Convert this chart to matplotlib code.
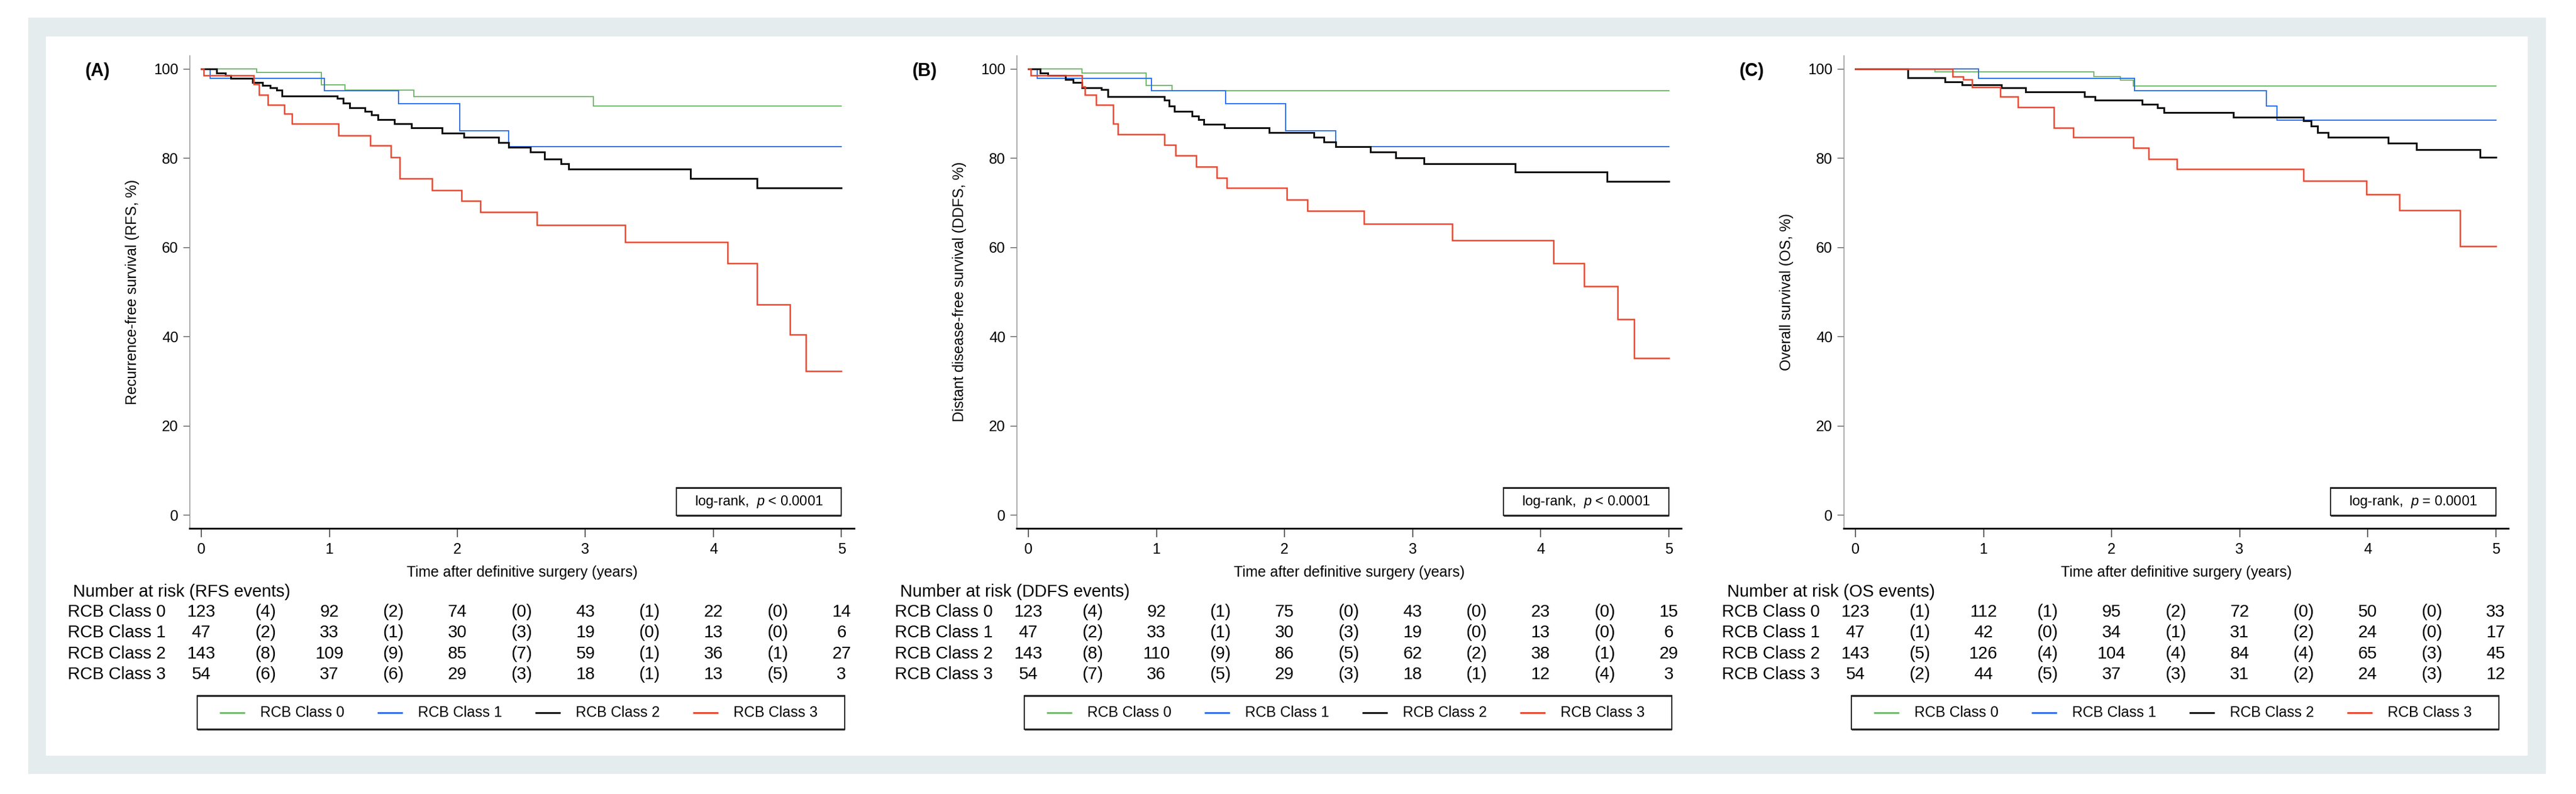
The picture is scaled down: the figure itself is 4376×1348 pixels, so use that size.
import matplotlib
matplotlib.use("Agg")
import matplotlib.pyplot as plt
from matplotlib.patches import Rectangle
from matplotlib.transforms import blended_transform_factory

plt.rcParams['font.family'] = ['Liberation Sans', 'DejaVu Sans']
plt.rcParams['mathtext.fontset'] = 'custom'
plt.rcParams['mathtext.it'] = 'Liberation Sans:italic'
plt.rcParams['mathtext.rm'] = 'Liberation Sans'

# ---------------- data ----------------
classes = ["RCB Class 0", "RCB Class 1", "RCB Class 2", "RCB Class 3"]
colors = ["#72B86C", "#2F6FE4", "#111111", "#E8462E"]
widths = [1.4, 1.4, 2.2, 1.8]
years = [0, 1, 2, 3, 4, 5]

# (A) Recurrence-free survival
rfs_c0_t = [0, 0.43, 0.94, 1.12, 1.66, 3.06, 5.0]
rfs_c0_s = [100, 99.2, 96.4, 95.2, 93.8, 91.6, 91.6]
rfs_c1_t = [0, 0.07, 0.96, 1.54, 2.02, 2.40, 5.0]
rfs_c1_s = [100, 97.9, 95.1, 92.2, 86.1, 82.6, 82.6]
rfs_c2_t = [0, 0.12, 0.19, 0.23, 0.40, 0.48, 0.54, 0.59, 0.63, 1.06, 1.11, 1.16,
            1.28, 1.33, 1.38, 1.51, 1.64, 1.88, 2.05, 2.32, 2.40, 2.57, 2.68, 2.81,
            2.87, 3.82, 4.34, 5.0]
rfs_c2_s = [100, 99.0, 98.5, 97.9, 96.9, 96.3, 95.8, 95.2, 93.9, 93.4, 92.3, 91.3,
            90.5, 89.7, 88.6, 87.7, 86.8, 85.6, 84.6, 83.5, 82.4, 81.3, 79.8, 78.7,
            77.5, 75.4, 73.3, 73.3]
rfs_c3_t = [0, 0.02, 0.41, 0.45, 0.52, 0.65, 0.71, 1.07, 1.32, 1.48, 1.55, 1.80,
            2.03, 2.18, 2.62, 3.31, 4.11, 4.34, 4.60, 4.72, 5.0]
rfs_c3_s = [100, 98.5, 96.5, 94.1, 91.9, 89.9, 87.7, 85.1, 82.8, 80.2, 75.4, 72.8,
            70.4, 67.9, 65.0, 61.2, 56.4, 47.2, 40.4, 32.2, 32.2]
rfs_at_risk = [[123, 92, 74, 43, 22, 14], [47, 33, 30, 19, 13, 6],
               [143, 109, 85, 59, 36, 27], [54, 37, 29, 18, 13, 3]]
rfs_events = [[4, 2, 0, 1, 0], [2, 1, 3, 0, 0], [8, 9, 7, 1, 1], [6, 6, 3, 1, 5]]

# (B) Distant disease-free survival
ddfs_c0_t = [0, 0.42, 0.92, 1.12, 5.0]
ddfs_c0_s = [100, 99.1, 96.3, 95.1, 95.1]
ddfs_c1_t = [0, 0.07, 0.96, 1.54, 2.01, 2.40, 5.0]
ddfs_c1_s = [100, 97.9, 95.1, 92.2, 86.1, 82.6, 82.6]
ddfs_c2_t = [0, 0.09, 0.15, 0.29, 0.35, 0.42, 0.57, 0.62, 1.06, 1.10, 1.14, 1.28,
             1.33, 1.37, 1.53, 1.88, 2.23, 2.31, 2.40, 2.67, 2.87, 3.09, 3.80, 4.52, 5.0]
ddfs_c2_s = [100, 99.0, 98.5, 97.6, 96.9, 95.8, 95.4, 93.8, 93.0, 91.6, 90.5, 89.4,
             88.6, 87.6, 86.8, 85.7, 84.6, 83.6, 82.6, 81.3, 80.0, 78.7, 76.8, 74.7, 74.7]
ddfs_c3_t = [0, 0.02, 0.42, 0.44, 0.53, 0.66, 0.70, 1.06, 1.15, 1.31, 1.47, 1.55,
             2.02, 2.18, 2.62, 3.31, 4.10, 4.34, 4.60, 4.73, 5.0]
ddfs_c3_s = [100, 98.5, 96.0, 94.1, 91.9, 87.7, 85.3, 83.0, 80.5, 78.1, 75.6, 73.3,
             70.7, 68.1, 65.2, 61.5, 56.4, 51.2, 43.9, 35.1, 35.1]
ddfs_at_risk = [[123, 92, 75, 43, 23, 15], [47, 33, 30, 19, 13, 6],
                [143, 110, 86, 62, 38, 29], [54, 36, 29, 18, 12, 3]]
ddfs_events = [[4, 1, 0, 0, 0], [2, 1, 3, 0, 0], [8, 9, 5, 2, 1], [7, 5, 3, 1, 4]]

# (C) Overall survival
os_c0_t = [0, 0.62, 1.86, 2.07, 2.17, 5.0]
os_c0_s = [100, 99.3, 98.3, 97.4, 96.2, 96.2]
os_c1_t = [0, 0.96, 2.18, 3.21, 3.29, 5.0]
os_c1_s = [100, 97.9, 95.1, 91.7, 88.5, 88.5]
os_c2_t = [0, 0.41, 0.70, 0.83, 1.14, 1.33, 1.79, 1.87, 2.24, 2.36, 2.41, 2.95,
           3.50, 3.56, 3.61, 3.69, 4.16, 4.38, 4.88, 5.0]
os_c2_s = [100, 98.0, 97.1, 96.4, 95.8, 94.8, 93.8, 93.0, 92.1, 91.2, 90.2, 89.2,
           88.3, 87.2, 85.7, 84.6, 83.3, 81.9, 80.2, 80.2]
os_c3_t = [0, 0.76, 0.84, 0.91, 1.13, 1.27, 1.55, 1.70, 2.17, 2.29, 2.51, 3.50,
           3.99, 4.25, 4.72, 5.0]
os_c3_s = [100, 98.3, 97.6, 95.9, 93.8, 91.4, 86.8, 84.6, 82.3, 79.8, 77.5, 74.9,
           71.8, 68.3, 60.2, 60.2]
os_at_risk = [[123, 112, 95, 72, 50, 33], [47, 42, 34, 31, 24, 17],
              [143, 126, 104, 84, 65, 45], [54, 44, 37, 31, 24, 12]]
os_events = [[1, 1, 2, 0, 0], [1, 0, 1, 2, 0], [5, 4, 4, 4, 3], [2, 5, 3, 2, 3]]

panels = [
    dict(tag="(A)", ylabel="Recurrence-free survival (RFS, %)",
         header="Number at risk (RFS events)", pval="log-rank,  $p$ < 0.0001",
         curves=[(rfs_c0_t, rfs_c0_s), (rfs_c1_t, rfs_c1_s),
                 (rfs_c2_t, rfs_c2_s), (rfs_c3_t, rfs_c3_s)],
         risk=rfs_at_risk, events=rfs_events),
    dict(tag="(B)", ylabel="Distant disease-free survival (DDFS, %)",
         header="Number at risk (DDFS events)", pval="log-rank,  $p$ < 0.0001",
         curves=[(ddfs_c0_t, ddfs_c0_s), (ddfs_c1_t, ddfs_c1_s),
                 (ddfs_c2_t, ddfs_c2_s), (ddfs_c3_t, ddfs_c3_s)],
         risk=ddfs_at_risk, events=ddfs_events),
    dict(tag="(C)", ylabel="Overall survival (OS, %)",
         header="Number at risk (OS events)", pval="log-rank,  $p$ = 0.0001",
         curves=[(os_c0_t, os_c0_s), (os_c1_t, os_c1_s),
                 (os_c2_t, os_c2_s), (os_c3_t, os_c3_s)],
         risk=os_at_risk, events=os_events),
]

# ---------------- layout ----------------
W, H = 4376, 1348
fig = plt.figure(figsize=(W / 100, H / 100), dpi=100)
fig.patch.set_facecolor("white")


def fy(py):
    return 1 - py / H


fig.patches.append(Rectangle((48 / W, fy(1314)), (4325 - 48) / W, (1314 - 30) / H,
                             transform=fig.transFigure, facecolor="#E5ECEE",
                             edgecolor="none", zorder=-20))
fig.patches.append(Rectangle((78 / W, fy(1283)), (4294 - 78) / W, (1283 - 62) / H,
                             transform=fig.transFigure, facecolor="white",
                             edgecolor="none", zorder=-19))

x0_px = [342, 1747, 3152]
ppy = 217.5
xmin, xmax = -0.09, 5.1
ax_top, ax_bot = 94, 897

for i, p in enumerate(panels):
    left = x0_px[i] + xmin * ppy
    width = (xmax - xmin) * ppy
    ax = fig.add_axes([left / W, fy(ax_bot), width / W, (ax_bot - ax_top) / H])
    ax.patch.set_alpha(0)
    ax.set_xlim(xmin, xmax)
    ax.set_ylim(-3, 103)
    for (t, s), c, lw in zip(p["curves"], colors, widths):
        ax.step(t, s, where="post", color=c, lw=lw, solid_joinstyle="miter")
    ax.spines["top"].set_visible(False)
    ax.spines["right"].set_visible(False)
    ax.spines["left"].set_color("#888888")
    ax.spines["left"].set_linewidth(1.0)
    ax.spines["bottom"].set_linewidth(2.2)
    ax.spines["bottom"].set_color("#111111")
    ax.set_xticks(years)
    ax.set_yticks([0, 20, 40, 60, 80, 100])
    ax.tick_params(axis="x", length=11, width=1.1, pad=6, labelsize=18, color="#333333")
    ax.tick_params(axis="y", length=8, width=1.0, pad=6, labelsize=18, color="#555555")

    ax.set_xlabel("Time after definitive surgery (years)", fontsize=18)
    ax.xaxis.set_label_coords(0.5, (ax_bot - 960) / (ax_bot - ax_top))
    ax.set_ylabel(p["ylabel"], fontsize=18)
    ax.yaxis.label.set_verticalalignment("center")
    ax.yaxis.set_label_coords((-117 - xmin * ppy) / width, 0.5)

    ax.text(-176 / ppy, 99.5, p["tag"], fontsize=22, fontweight="bold",
            ha="center", va="center", clip_on=False)

    # log-rank box
    ax.add_patch(Rectangle((3.71, -0.15), 1.29, 6.2, facecolor="white",
                           edgecolor="#111111", lw=1.3, zorder=5))
    ax.plot([3.71, 5.0], [6.05, 6.05], color="#222222", lw=2.2, zorder=6,
            solid_capstyle="butt")
    ax.plot([3.71, 5.0], [-0.15, -0.15], color="#222222", lw=2.4, zorder=6,
            solid_capstyle="butt")
    ax.text(4.355, 2.95, p["pval"], fontsize=17, ha="center", va="center", zorder=7)

    # number at risk table
    tr = blended_transform_factory(ax.transData, fig.transFigure)
    ax.text(-218 / ppy, fy(1005), p["header"], fontsize=21, ha="left", va="center",
            transform=tr, clip_on=False)
    row_y = [1039, 1074, 1110, 1145]
    for r in range(4):
        ax.text(-227 / ppy, fy(row_y[r]), classes[r], fontsize=21, ha="left",
                va="center", transform=tr, clip_on=False)
        for k, yv in enumerate(years):
            ax.text(yv, fy(row_y[r]), str(p["risk"][r][k]), fontsize=21, ha="center",
                    va="center", transform=tr, clip_on=False)
        for k in range(5):
            ax.text(k + 0.5, fy(row_y[r]), "(%d)" % p["events"][r][k], fontsize=21,
                    ha="center", va="center", transform=tr, clip_on=False)

    # legend box
    lx0, lx1 = -7 / ppy, 1093 / ppy
    ax.add_patch(Rectangle((lx0, fy(1238)), lx1 - lx0, (1238 - 1181) / H,
                           transform=tr, facecolor="white", edgecolor="#111111",
                           lw=1.3, clip_on=False))
    ax.plot([lx0, lx1], [fy(1181), fy(1181)], transform=tr, color="#222222",
            lw=2.4, clip_on=False, solid_capstyle="butt")
    ax.plot([lx0, lx1], [fy(1238), fy(1238)], transform=tr, color="#222222",
            lw=2.4, clip_on=False, solid_capstyle="butt")
    for k in range(4):
        base = (31 + 268 * k) / ppy
        ax.plot([base, base + 43 / ppy], [fy(1210), fy(1210)], transform=tr,
                color=colors[k], lw=2.2, clip_on=False, solid_capstyle="butt")
        ax.text(base + 69 / ppy, fy(1210), classes[k], fontsize=18, ha="left",
                va="center", transform=tr, clip_on=False)

fig.savefig("out.png", dpi=100)
